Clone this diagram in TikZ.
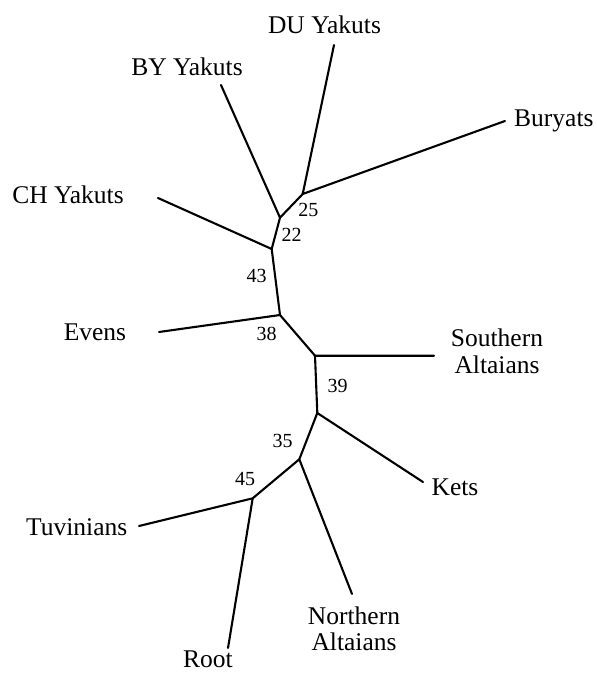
\documentclass[tikz,border=0pt]{standalone}
\usepackage{fontspec}
\setmainfont{Liberation Serif}
\begin{document}
\begin{tikzpicture}[x=1pt,y=-1pt,
  branch/.style={line width=2.1pt,line cap=round},
  taxon/.style={inner sep=0pt,font=\fontsize{25.5}{26.5}\selectfont},
  taxon2/.style={inner sep=0pt,align=center,font=\fontsize{25.5}{26.3}\selectfont},
  boot/.style={inner sep=0pt,font=\fontsize{20}{22}\selectfont}]
\useasboundingbox (0,0) rectangle (597,675);
% internal nodes
\coordinate (A) at (302.7,194);
\coordinate (B) at (280,217.7);
\coordinate (C) at (271.7,249);
\coordinate (D) at (280,315);
\coordinate (E) at (315,355.7);
\coordinate (F) at (317.3,413);
\coordinate (G) at (299.3,459.3);
\coordinate (H) at (252.7,498.3);
% leaf ends
\coordinate (du) at (334,45);
\coordinate (bu) at (505,121);
\coordinate (by) at (221,85);
\coordinate (ch) at (158,198);
\coordinate (ev) at (159,332);
\coordinate (sa) at (434,355.7);
\coordinate (ke) at (423,482);
\coordinate (na) at (352,594);
\coordinate (tu) at (139,526);
\coordinate (ro) at (228,648);
% branches
\draw[branch] (du) -- (A) -- (bu);
\draw[branch] (A) -- (B) -- (by);
\draw[branch] (B) -- (C) -- (ch);
\draw[branch] (C) -- (D) -- (ev);
\draw[branch] (D) -- (E) -- (sa);
\draw[branch] (E) -- (F) -- (ke);
\draw[branch] (F) -- (G) -- (na);
\draw[branch] (G) -- (H) -- (tu);
\draw[branch] (H) -- (ro);
% taxon labels
\node[taxon,anchor=base] (tDU) at (324.5,33.3) {DU Yakuts};
\node[taxon,anchor=base] (tBY) at (187,75) {BY Yakuts};
\node[taxon,anchor=base west] (tBU) at (514,126) {Buryats};
\node[taxon,anchor=base] (tCH) at (68,203.3) {CH Yakuts};
\node[taxon,anchor=base] (tEV) at (95,340) {Evens};
\node[taxon2] (tSA) at (497,351.3) {Southern\\Altaians};
\node[taxon,anchor=base] (tKE) at (455,495) {Kets};
\node[taxon,anchor=base] (tTU) at (76.7,535) {Tuvinians};
\node[taxon2] (tNA) at (354,629) {Northern\\Altaians};
\node[taxon,anchor=base] (tRO) at (208,667) {Root};
% bootstrap values
\node[boot] (b25) at (308.3,210) {25};
\node[boot] (b22) at (291.7,235) {22};
\node[boot] (b43) at (256.7,276) {43};
\node[boot] (b38) at (266.7,334) {38};
\node[boot] (b39) at (337.7,386) {39};
\node[boot] (b35) at (282.7,440.7) {35};
\node[boot] (b45) at (245,479.3) {45};
\end{tikzpicture}
\end{document}
